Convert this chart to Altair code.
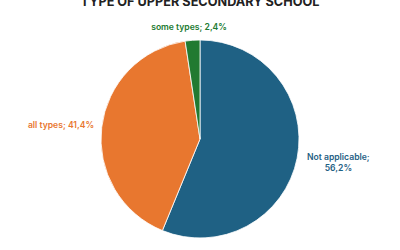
import altair as alt
import pandas as pd

categories = ["Not applicable", "all types", "some types"]
values = [56.2, 41.4, 2.4]
colors = ["#1f6184", "#e8772f", "#217a31"]
title_text = "TYPE OF UPPER SECONDARY SCHOOL"

df = pd.DataFrame({
    "category": categories,
    "value": values,
    "order": list(range(len(categories))),
})
df["label"] = [
    (f"{c};\n{str(v).replace('.', ',')}%" if c == "Not applicable" else f"{c}; {str(v).replace('.', ',')}%")
    for c, v in zip(categories, values)
]

cx, cy = 200, 139
base = alt.Chart(df).encode(
    theta=alt.Theta("value:Q", stack=True),
    order=alt.Order("order:Q"),
    color=alt.Color("category:N", scale=alt.Scale(domain=categories, range=colors), legend=None),
    x=alt.value(cx),
    y=alt.value(cy),
)

pie = base.mark_arc(outerRadius=99, stroke="white", strokeWidth=0.8)


def label_layer(cat, radius, dx=0, dy=0):
    return base.mark_text(
        radius=radius, dx=dx, dy=dy, fontSize=8.6, fontWeight=600, font="Inter",
        lineBreak="\n", lineHeight=11, align="center", baseline="middle"
    ).encode(
        text=alt.condition(alt.datum.category == cat, alt.Text("label:N"), alt.value(""))
    )


lab_na = label_layer("Not applicable", 141, dx=0, dy=-9.5)
lab_all = label_layer("all types", 140, dx=0, dy=2.5)
lab_some = label_layer("some types", 112, dx=-2.5, dy=0)

title = alt.Chart(pd.DataFrame({"t": [title_text]})).mark_text(
    fontSize=12.7, fontWeight="bold", font="Inter", color="#222222",
    align="center", baseline="alphabetic"
).encode(x=alt.value(cx), y=alt.value(6), text="t:N")

chart = alt.layer(pie, lab_na, lab_all, lab_some, title).properties(
    width=400, height=250, autosize=alt.AutoSizeParams(type="none"), padding=0
).configure_view(stroke=None)

chart.save("out.html", embed_options={"renderer": "svg", "actions": False})
